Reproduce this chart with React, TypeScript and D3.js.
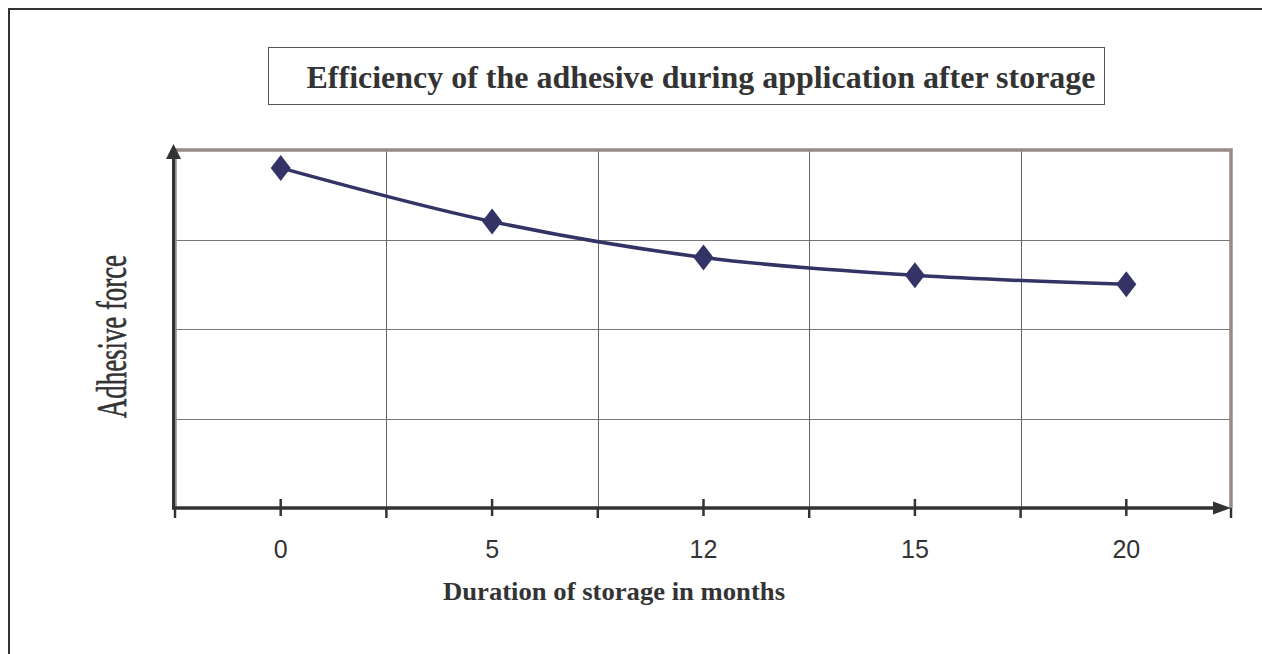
import { useEffect, useRef } from 'react';
import * as d3 from 'd3';

// storage duration (months) and relative adhesive force
const categories = ["0", "5", "12", "15", "20"];
const adhesiveForce = [3.8, 3.2, 2.8, 2.6, 2.5];
const yGridValues = [1, 2, 3];

const titleText = "Efficiency of the adhesive during application after storage";
const xTitleText = "Duration of storage in months";
const yTitleText = "Adhesive force";

export default function App() {
  const svgRef = useRef<SVGSVGElement | null>(null);

  useEffect(() => {
    if (!svgRef.current) return;
    document.body.style.margin = "0";
    document.documentElement.style.overflow = "hidden";
    const svg = d3.select(svgRef.current);
    svg.selectAll("*").remove();

    const plot = { left: 175, right: 1232, top: 150, bottom: 508 };
    const axisColor = "#333333";
    const frameColor = "#978a87";
    const seriesColor = "#333366";

    const x = d3.scaleBand<string>()
      .domain(categories)
      .range([plot.left, plot.right]);
    const cx = (c: string) => (x(c) as number) + x.bandwidth() / 2;

    const y = d3.scaleLinear()
      .domain([0, 4])
      .range([plot.bottom, plot.top]);

    // outer frame (only top and left edges show)
    svg.append("path")
      .attr("d", "M9,700 V9 H1300")
      .attr("fill", "none")
      .attr("stroke", axisColor)
      .attr("stroke-width", 2);

    // title box
    svg.append("rect")
      .attr("x", 268.5)
      .attr("y", 47.5)
      .attr("width", 836)
      .attr("height", 57)
      .attr("fill", "white")
      .attr("stroke", "#555")
      .attr("stroke-width", 1);

    svg.append("text")
      .attr("x", 701)
      .attr("y", 88)
      .attr("text-anchor", "middle")
      .attr("textLength", 789)
      .attr("lengthAdjust", "spacingAndGlyphs")
      .style("font-family", "'Liberation Serif', 'Times New Roman', serif")
      .style("font-weight", "bold")
      .style("font-size", "32px")
      .style("fill", "#333")
      .text(titleText);

    // horizontal gridlines
    svg.append("g")
      .selectAll("line")
      .data(yGridValues)
      .join("line")
      .attr("x1", plot.left)
      .attr("x2", plot.right)
      .attr("y1", d => Math.round(y(d)) + 0.5)
      .attr("y2", d => Math.round(y(d)) + 0.5)
      .attr("stroke", "#777")
      .attr("stroke-width", 1);

    // vertical gridlines at category boundaries
    const boundaries = categories.slice(1).map(c => x(c) as number);
    svg.append("g")
      .selectAll("line")
      .data(boundaries)
      .join("line")
      .attr("x1", d => Math.round(d) + 0.5)
      .attr("x2", d => Math.round(d) + 0.5)
      .attr("y1", plot.top)
      .attr("y2", plot.bottom)
      .attr("stroke", "#666")
      .attr("stroke-width", 1);

    // plot area border (top, left, right)
    svg.append("path")
      .attr("d", `M${plot.left},${plot.bottom} V${plot.top} H${plot.right - 1} V${plot.bottom}`)
      .attr("fill", "none")
      .attr("stroke", frameColor)
      .attr("stroke-width", 3.5);

    // x axis with arrow
    svg.append("line")
      .attr("x1", 172)
      .attr("x2", 1216)
      .attr("y1", plot.bottom)
      .attr("y2", plot.bottom)
      .attr("stroke", axisColor)
      .attr("stroke-width", 3.5);
    svg.append("path")
      .attr("d", `M1231,${plot.bottom} L1213,${plot.bottom - 6.5} L1213,${plot.bottom + 6.5} Z`)
      .attr("fill", axisColor);

    // ticks through the axis at category centres
    svg.append("g")
      .selectAll("line")
      .data(categories)
      .join("line")
      .attr("x1", d => cx(d))
      .attr("x2", d => cx(d))
      .attr("y1", plot.bottom - 9)
      .attr("y2", plot.bottom + 8)
      .attr("stroke", axisColor)
      .attr("stroke-width", 2.5);

    // ticks below the axis at category boundaries
    svg.append("g")
      .selectAll("line")
      .data([plot.left, ...boundaries, plot.right - 1])
      .join("line")
      .attr("x1", d => d)
      .attr("x2", d => d)
      .attr("y1", plot.bottom)
      .attr("y2", plot.bottom + 10)
      .attr("stroke", axisColor)
      .attr("stroke-width", 2.5);

    // tick labels
    svg.append("g")
      .selectAll("text")
      .data(categories)
      .join("text")
      .attr("x", d => cx(d))
      .attr("y", 558)
      .attr("text-anchor", "middle")
      .style("font-family", "'Liberation Sans', Arial, sans-serif")
      .style("font-size", "25px")
      .style("fill", "#333")
      .text(d => d);

    // y axis with arrow
    svg.append("line")
      .attr("x1", 173.5)
      .attr("x2", 173.5)
      .attr("y1", plot.bottom + 1)
      .attr("y2", 156)
      .attr("stroke", axisColor)
      .attr("stroke-width", 3);
    svg.append("path")
      .attr("d", "M173.5,144 L166,159 L181,159 Z")
      .attr("fill", axisColor);

    // axis titles
    svg.append("text")
      .attr("x", 614)
      .attr("y", 600)
      .attr("text-anchor", "middle")
      .attr("textLength", 342)
      .attr("lengthAdjust", "spacingAndGlyphs")
      .style("font-family", "'Liberation Serif', 'Times New Roman', serif")
      .style("font-weight", "bold")
      .style("font-size", "26px")
      .style("fill", "#333")
      .text(xTitleText);

    svg.append("text")
      .attr("transform", "translate(126,336.5) rotate(-90)")
      .attr("text-anchor", "middle")
      .attr("textLength", 163)
      .attr("lengthAdjust", "spacingAndGlyphs")
      .style("font-family", "'Liberation Serif', 'Times New Roman', serif")
      .style("font-size", "42px")
      .style("fill", "#333")
      .style("stroke", "#333")
      .style("stroke-width", 0.6)
      .text(yTitleText);

    // series
    const points = categories.map((c, i) => ({ c, v: adhesiveForce[i] }));
    const line = d3.line<{ c: string; v: number }>()
      .x(d => cx(d.c))
      .y(d => y(d.v))
      .curve(d3.curveCatmullRom.alpha(0.5));

    svg.append("path")
      .datum(points)
      .attr("d", line)
      .attr("fill", "none")
      .attr("stroke", seriesColor)
      .attr("stroke-width", 3.5);

    svg.append("g")
      .selectAll("path")
      .data(points)
      .join("path")
      .attr("transform", d => `translate(${cx(d.c)},${y(d.v)})`)
      .attr("d", "M0,-13 L10,0 L0,13 L-10,0 Z")
      .attr("fill", seriesColor);
  }, []);

  return (
    <svg
      ref={svgRef}
      width={1262}
      height={654}
      style={{ position: 'absolute', left: 0, top: 0, display: 'block', background: 'white' }}
    />
  );
}
